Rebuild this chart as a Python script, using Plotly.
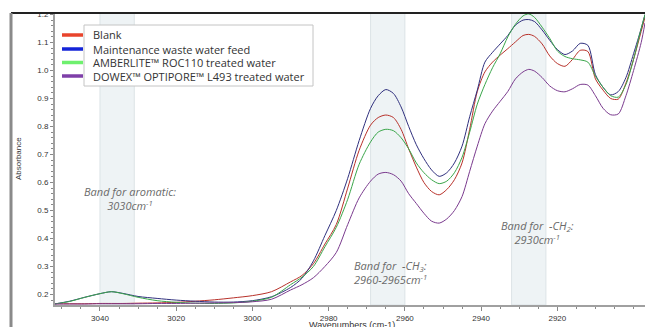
import plotly.graph_objects as go

wavenumbers = [3052, 3048, 3044, 3040, 3037, 3034, 3030, 3025, 3020, 3015, 3010, 3005, 3000, 2995,
               2990, 2987, 2984, 2981, 2978, 2975, 2972, 2969, 2967, 2965, 2963, 2961, 2959, 2957,
               2955, 2953, 2951, 2949, 2947, 2945, 2943, 2941, 2939, 2937, 2935, 2933, 2931, 2929,
               2927.5, 2926, 2924, 2922, 2920, 2918, 2916, 2914, 2912, 2910, 2908, 2906, 2904, 2902,
               2900, 2898, 2897]

blank = [0.167, 0.167, 0.167, 0.168, 0.168, 0.168, 0.169, 0.170, 0.172, 0.176, 0.181, 0.188, 0.196, 0.210,
         0.245, 0.268, 0.310, 0.380, 0.450, 0.580, 0.715, 0.805, 0.832, 0.841, 0.832, 0.790, 0.720, 0.655,
         0.600, 0.568, 0.556, 0.575, 0.610, 0.670, 0.790, 0.925, 0.995, 1.030, 1.055, 1.078, 1.102, 1.125,
         1.129, 1.122, 1.095, 1.052, 1.025, 1.015, 1.040, 1.072, 1.068, 0.970, 0.930, 0.900, 0.898, 0.955,
         1.040, 1.140, 1.190]

feed = [0.166, 0.176, 0.190, 0.203, 0.210, 0.204, 0.193, 0.186, 0.180, 0.176, 0.173, 0.173, 0.178, 0.192,
        0.225, 0.258, 0.320, 0.410, 0.500, 0.615, 0.750, 0.865, 0.910, 0.932, 0.918, 0.870, 0.800, 0.735,
        0.685, 0.645, 0.622, 0.635, 0.670, 0.730, 0.835, 0.930, 1.030, 1.065, 1.095, 1.125, 1.162, 1.180,
        1.182, 1.175, 1.145, 1.108, 1.075, 1.057, 1.070, 1.097, 1.090, 0.985, 0.940, 0.913, 0.925, 0.975,
        1.060, 1.150, 1.200]

amberlite = [0.166, 0.175, 0.190, 0.203, 0.210, 0.203, 0.190, 0.178, 0.172, 0.169, 0.168, 0.170, 0.176, 0.190,
             0.235, 0.262, 0.300, 0.370, 0.440, 0.540, 0.665, 0.745, 0.780, 0.790, 0.785, 0.760, 0.720, 0.670,
             0.635, 0.610, 0.596, 0.605, 0.635, 0.690, 0.780, 0.880, 0.950, 1.010, 1.060, 1.120, 1.165, 1.195,
             1.202, 1.190, 1.155, 1.115, 1.070, 1.050, 1.042, 1.038, 1.030, 0.980, 0.940, 0.910, 0.905, 0.950,
             1.040, 1.150, 1.200]

dowex = [0.166, 0.166, 0.166, 0.167, 0.167, 0.167, 0.167, 0.168, 0.168, 0.169, 0.170, 0.171, 0.174, 0.183,
         0.216, 0.235, 0.260, 0.300, 0.350, 0.450, 0.545, 0.605, 0.630, 0.636, 0.628, 0.605, 0.560, 0.525,
         0.490, 0.462, 0.455, 0.470, 0.500, 0.550, 0.640, 0.730, 0.810, 0.855, 0.890, 0.925, 0.970, 0.995,
         1.004, 0.998, 0.975, 0.945, 0.928, 0.924, 0.935, 0.950, 0.948, 0.910, 0.865, 0.842, 0.845, 0.910,
         1.000, 1.100, 1.170]

series_names = ["Blank", "Maintenance waste water feed", "AMBERLITE\u2122 ROC110 treated water",
                "DOWEX\u2122 OPTIPORE\u2122 L493 treated water"]
series_values = [blank, feed, amberlite, dowex]
line_colors = ["#b8312a", "#30307e", "#3aa64a", "#7a3a8e"]
legend_colors = ["#e8442c", "#1424d8", "#6ef06e", "#7e3fa8"]

x_tick_values = [3040, 3020, 3000, 2980, 2960, 2940, 2920]

bands = [(3040, 3031), (2969, 2960), (2932, 2923)]
band_labels = [
    (3032.1, 0.543, "<i>Band for aromatic:<br>3030cm<sup>-1</sup></i>", "center"),
    (2973.9, 0.279, "<i>Band for  -CH<sub>3</sub>:<br>2960-2965cm<sup>-1</sup></i>", "left"),
    (2925.2, 0.423, "<i>Band for  -CH<sub>2</sub>:<br>2930cm<sup>-1</sup></i>", "center"),
]

W, H = 645, 327
ML, MR, MT, MB = 55, 0, 13, 22
PW, PH = W - ML - MR, H - MT - MB


def px_x(px):
    return (px - ML) / PW


def px_y(py):
    return (H - MB - py) / PH


fig = go.Figure()
for name, vals, col in zip(series_names, series_values, line_colors):
    fig.add_trace(go.Scatter(x=wavenumbers, y=vals, mode="lines", name=name,
                             line=dict(color=col, width=1, shape="spline", smoothing=0.8),
                             showlegend=False, hoverinfo="skip"))

shapes = []
for x0, x1 in bands:
    shapes.append(dict(type="rect", xref="x", yref="paper", x0=x0, x1=x1, y0=0, y1=1,
                       fillcolor="#eef3f5", line=dict(color="#dce3e6", width=1), layer="below"))

# frame lines
shapes.append(dict(type="line", xref="paper", yref="paper", x0=px_x(11), x1=1.0, y0=1, y1=1,
                   line=dict(color="#222222", width=2), layer="above"))
shapes.append(dict(type="line", xref="paper", yref="paper", x0=px_x(11), x1=px_x(11), y0=1.0, y1=px_y(H + 2),
                   line=dict(color="#8a8a8a", width=3), layer="above"))

# legend box
shapes.append(dict(type="rect", xref="paper", yref="paper", x0=px_x(84), x1=px_x(313),
                   y0=px_y(86), y1=px_y(25), fillcolor="white",
                   line=dict(color="#c4c4c4", width=1), layer="above"))

annotations = []
row_y = [35, 49, 62.5, 76]
for name, col, ry in zip(series_names, legend_colors, row_y):
    shapes.append(dict(type="line", xref="paper", yref="paper", x0=px_x(62), x1=px_x(83),
                       y0=px_y(ry), y1=px_y(ry), line=dict(color=col, width=3.5), layer="above"))
    annotations.append(dict(xref="paper", yref="paper", x=px_x(91), y=px_y(ry), text=name,
                            showarrow=False, xanchor="left", yanchor="middle",
                            font=dict(family="Open Sans", size=11, color="#333333")))

for bx, by, txt, al in band_labels:
    annotations.append(dict(x=bx, y=by, xref="x", yref="y", text=txt, showarrow=False,
                            xanchor=al, yanchor="middle", align=al,
                            font=dict(family="Open Sans", size=11, color="#6a6a6a")))

# axis titles
annotations.append(dict(xref="paper", yref="paper", x=px_x(352), y=px_y(324.5), text="Wavenumbers (cm-1)",
                        showarrow=False, xanchor="center", yanchor="middle",
                        font=dict(family="Liberation Sans", size=9, color="#333333")))
annotations.append(dict(xref="paper", yref="paper", x=px_x(18), y=px_y(159), text="Absorbance",
                        showarrow=False, xanchor="center", yanchor="middle", textangle=-90,
                        font=dict(family="Liberation Sans", size=8, color="#333333")))

fig.update_layout(
    width=W, height=H,
    margin=dict(l=ML, r=MR, t=MT, b=MB, pad=0, autoexpand=False),
    paper_bgcolor="white", plot_bgcolor="white",
    shapes=shapes, annotations=annotations,
    showlegend=False, hovermode=False,
    xaxis=dict(range=[3051.8, 2897], showgrid=False, zeroline=False, automargin=False,
               showline=True, linecolor="#a0a0a0", linewidth=2,
               ticks="outside", ticklen=4, tickcolor="#888888", tickwidth=1,
               tickmode="array", tickvals=x_tick_values,
               minor=dict(ticks="outside", ticklen=2, dtick=5, tick0=3040, tickcolor="#888888", showgrid=False),
               tickfont=dict(family="Liberation Sans", size=8, color="#333333")),
    yaxis=dict(range=[0.1625, 1.2054], showgrid=False, zeroline=False, automargin=False,
               showline=True, linecolor="#a0a0a0", linewidth=2,
               ticks="outside", ticklen=3, tickcolor="#888888", tickwidth=1,
               tick0=0.2, dtick=0.1, tickformat=".1f",
               minor=dict(ticks="outside", ticklen=2, dtick=0.02, tick0=0.2, tickcolor="#888888", showgrid=False),
               tickfont=dict(family="Liberation Sans", size=8, color="#333333")),
)

fig.write_html("out.html", config={"displayModeBar": False},
               post_script="document.body.style.margin='0';document.body.style.padding='0';")
